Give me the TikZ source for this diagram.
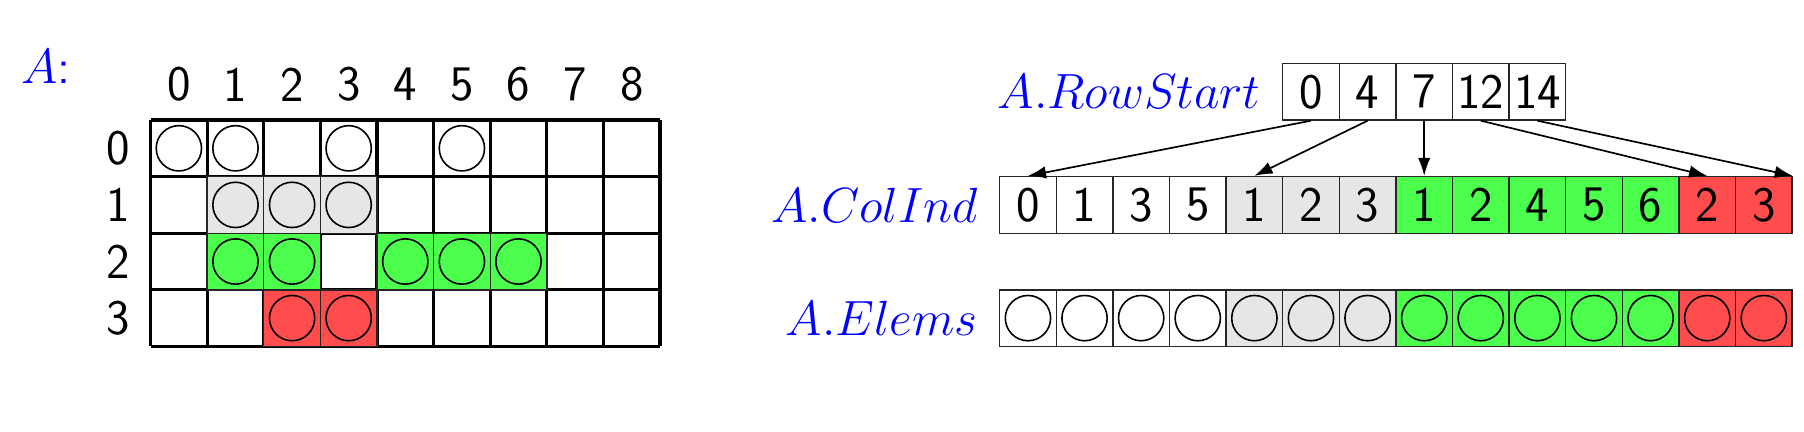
\documentclass[tikz,border=0pt]{standalone}
\usepackage{fontspec}
\usetikzlibrary{arrows.meta,positioning}
\definecolor{nzgray}{RGB}{230,230,230}
\definecolor{nzgreen}{RGB}{77,255,77}
\definecolor{nzred}{RGB}{255,77,77}

\begin{document}
\begin{tikzpicture}[
  font=\fontsize{25}{30}\selectfont\sffamily,
  node distance=3.7mm,
  cell/.style={rectangle, minimum size=1cm, inner sep=0pt, draw=black!85, line width=0.7pt},
  elem/.style={circle, draw, line width=0.8pt, minimum size=0.8cm, inner sep=0pt},
  lbl/.style={text=blue, inner sep=0pt},
  ptr/.style={->,>={Latex[length=3.2mm,width=2.2mm]}, line width=0.85pt},
]
\useasboundingbox (-2.66,2.12) rectangle (29.21,-5.51);

\node[lbl, anchor=base] (alabel) at (-1.85,0.65) {$A$:};
\foreach \c in {0,...,8} \node (col\c) at (\c+0.5,0.63) {\c};
\foreach \r in {0,...,3} \node (row\r) at (-0.58,-\r-0.5) {\r};
\draw[line width=1.6pt] (0,0) grid (9,-4);
\foreach \r/\c/\f in {1/1/nzgray,1/2/nzgray,1/3/nzgray,2/1/nzgreen,2/2/nzgreen,2/4/nzgreen,2/5/nzgreen,2/6/nzgreen,3/2/nzred,3/3/nzred}
  \node[cell, fill=\f] (m\r\c) at (\c+0.5,-\r-0.5) {};
\foreach \r/\c in {0/0,0/1,0/3,0/5,1/1,1/2,1/3,2/1,2/2,2/4,2/5,2/6,3/2,3/3}
  \node[elem] (a\r\c) at (\c+0.5,-\r-0.5) {};

\foreach \v [count=\i from 0] in {0,4,7,12,14}
  \node[cell] (rs\i) at (20.5+\i,0.5) {\v};
\foreach \v/\f [count=\i from 0] in {0/white,1/white,3/white,5/white,1/nzgray,2/nzgray,3/nzgray,1/nzgreen,2/nzgreen,4/nzgreen,5/nzgreen,6/nzgreen,2/nzred,3/nzred}
  \node[cell, fill=\f] (ci\i) at (15.5+\i,-1.5) {\v};
\foreach \f [count=\i from 0] in {white,white,white,white,nzgray,nzgray,nzgray,nzgreen,nzgreen,nzgreen,nzgreen,nzgreen,nzred,nzred} {
  \node[cell, fill=\f] (el\i) at (15.5+\i,-3.5) {};
  \node[elem] (ev\i) at (el\i) {};
}

\node[lbl, left=of rs0] (rslabel) {$A.RowStart$};
\node[lbl, left=of ci0] (cilabel) {$A.ColInd$};
\node[lbl, left=of el0] (ellabel) {$A.Elems$};

\draw[ptr] (rs0.south) -- (ci0.north);
\draw[ptr] (rs1.south) -- (ci4.north);
\draw[ptr] (rs2.south) -- (ci7.north);
\draw[ptr] (rs3.south) -- (ci12.north);
\draw[ptr] (rs4.south) -- (ci13.north east);
\end{tikzpicture}
\end{document}
